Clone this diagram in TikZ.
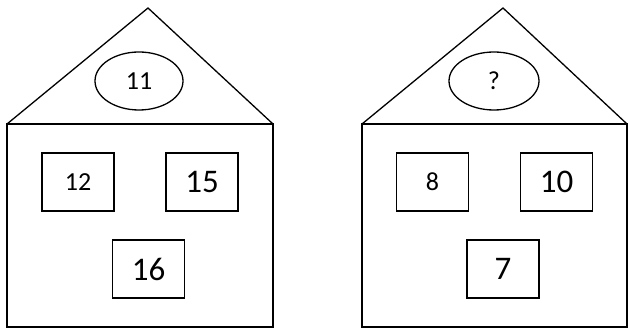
\documentclass[tikz,border=0pt]{standalone}
\usepackage{fontspec}
\setmainfont{Carlito}
\usetikzlibrary{shapes.geometric}

\begin{document}
\begin{tikzpicture}[x=1pt, y=-1pt, line width=1.3pt,
  roofsign/.style={draw, ellipse, inner sep=0pt, minimum height=58pt, font=\fontsize{26}{26}\selectfont},
  smallwin/.style={draw, rectangle, inner sep=0pt, minimum width=72pt, minimum height=58pt, font=\fontsize{26}{26}\selectfont},
  bigwin/.style={smallwin, font=\fontsize{33}{33}\selectfont}]

\useasboundingbox (0, 0) rectangle (630, 331);

\draw (7, 124) rectangle (273, 327);
\draw (7, 124) -- (148, 8) -- (273, 124);
\node[roofsign, minimum width=88pt] (sumL) at (139, 81) {11};
\node[smallwin] (winLa) at (78, 182) {12};
\node[bigwin] (winLb) at (202, 182) {15};
\node[bigwin] (winLc) at (148.5, 269) {16};

\draw (362, 124) rectangle (627, 327);
\draw (362, 124) -- (503, 8) -- (627, 124);
\node[roofsign, minimum width=90pt] (sumR) at (494, 81) {?};
\node[smallwin] (winRa) at (432.5, 182) {8};
\node[bigwin] (winRb) at (556.5, 182) {10};
\node[bigwin] (winRc) at (503, 269) {7};

\end{tikzpicture}
\end{document}
